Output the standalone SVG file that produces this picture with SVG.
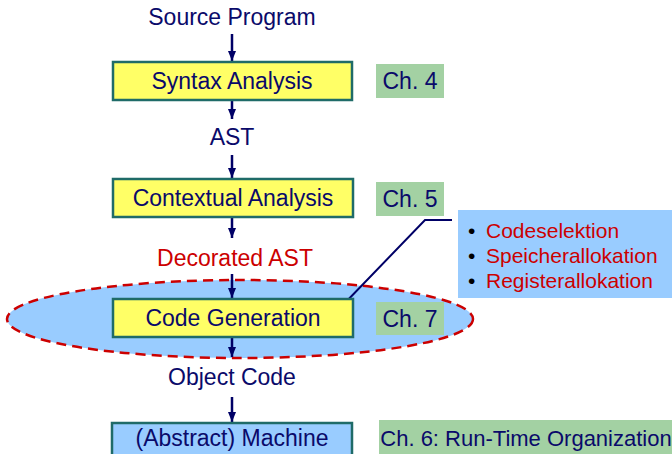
<svg xmlns="http://www.w3.org/2000/svg" width="672" height="454" viewBox="0 0 672 454">
<defs>
<marker id="ah" viewBox="0 0 10 10" refX="10" refY="5" markerWidth="10" markerHeight="10" orient="auto" markerUnits="userSpaceOnUse">
<path d="M0,1 L10,5 L0,9 z" fill="#000066"/>
</marker>
<style>
text{font-family:"Liberation Sans",Arial,sans-serif;font-size:23px;fill:#0a0a6a;}
.c{text-anchor:middle;}
.red{fill:#cc0000;}
.box{fill:#ffff66;stroke:#1f6b68;stroke-width:2.5;}
.bbox{fill:#99ccff;stroke:#1f6b68;stroke-width:2.5;}
.ch{fill:#a3d1a3;}
.arr{stroke:#000066;stroke-width:2.5;fill:none;}
.bl{font-size:21px;}
</style>
</defs>
<rect width="672" height="454" fill="#ffffff"/>
<g id="ellipse">
<ellipse cx="240" cy="319" rx="233" ry="39" fill="#99ccff" stroke="#cc0000" stroke-width="2.5" stroke-dasharray="10,6"/>
</g>
<g id="connectors">
<line class="arr" x1="232" y1="34" x2="232" y2="61" marker-end="url(#ah)"/>
<line class="arr" x1="232" y1="101" x2="232" y2="119" marker-end="url(#ah)"/>
<line class="arr" x1="232" y1="155" x2="232" y2="178" marker-end="url(#ah)"/>
<line class="arr" x1="232" y1="218" x2="232" y2="238" marker-end="url(#ah)"/>
<line class="arr" x1="232" y1="274" x2="232" y2="298" marker-end="url(#ah)"/>
<line class="arr" x1="232" y1="338" x2="232" y2="357" marker-end="url(#ah)"/>
<line class="arr" x1="232" y1="397" x2="232" y2="422" marker-end="url(#ah)"/>
<polyline points="452,220 425,220 342,306" fill="none" stroke="#000066" stroke-width="2"/>
</g>
<g id="source"><text class="c" x="232" y="25">Source Program</text></g>
<g id="syntax"><rect class="box" x="113" y="62" width="239" height="38"/><text class="c" x="232" y="89">Syntax Analysis</text></g>
<g id="ch4"><rect class="ch" x="376" y="64" width="68" height="34"/><text class="c" x="410" y="89">Ch. 4</text></g>
<g id="ast"><text class="c" x="232" y="145">AST</text></g>
<g id="contextual"><rect class="box" x="113" y="179" width="240" height="38"/><text class="c" x="233" y="206">Contextual Analysis</text></g>
<g id="ch5"><rect class="ch" x="376" y="182" width="68" height="34"/><text class="c" x="410" y="207">Ch. 5</text></g>
<g id="decorated"><text class="c red" x="235" y="266">Decorated AST</text></g>
<g id="codegen"><rect class="box" x="113" y="299" width="240" height="38"/><text class="c" x="233" y="326">Code Generation</text></g>
<g id="ch7"><rect class="ch" x="376" y="302" width="68" height="33"/><text class="c" x="410" y="327">Ch. 7</text></g>
<g id="callout">
<rect x="458" y="210" width="214" height="88" fill="#99ccff"/>
<text x="468" y="238" class="bl" style="fill:#000">•</text>
<text x="486" y="238" class="red bl">Codeselektion</text>
<text x="468" y="263" class="bl" style="fill:#000">•</text>
<text x="486" y="263" class="red bl">Speicherallokation</text>
<text x="468" y="288" class="bl" style="fill:#000">•</text>
<text x="486" y="288" class="red bl">Registerallokation</text>
</g>
<g id="objectcode"><text class="c" x="232" y="385">Object Code</text></g>
<g id="machine"><rect class="bbox" x="112" y="423" width="240" height="40"/><text class="c" x="232" y="446">(Abstract) Machine</text></g>
<g id="ch6"><rect class="ch" x="379" y="420" width="293" height="34"/><text class="c" x="526" y="446" style="font-size:22px">Ch. 6: Run-Time Organization</text></g>
</svg>
